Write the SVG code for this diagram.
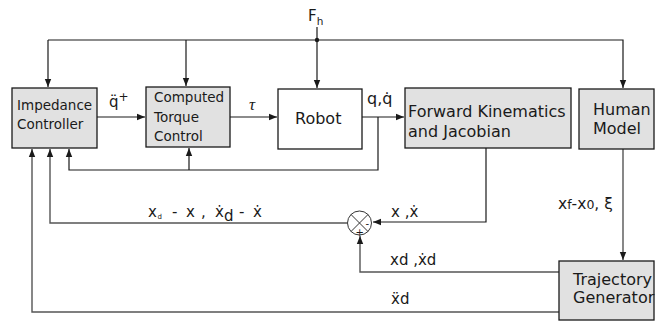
<svg xmlns="http://www.w3.org/2000/svg" width="655" height="324" viewBox="0 0 655 324">
<style>
.box{fill:#e1e1e1;stroke:#1a1a1a;stroke-width:1.3}
.wbox{fill:#fff;stroke:#1a1a1a;stroke-width:1.3}
.t{font-family:"DejaVu Sans",Verdana,sans-serif;fill:#1a1a1a}
.s{font-size:13.5px}
.b{font-size:16px}
.l{font-size:15px}
.ln{fill:none;stroke:#1a1a1a;stroke-width:1.2}
.gl{fill:none;stroke:#555;stroke-width:1.4}
</style>
<defs>
<marker id="ah" viewBox="0 0 8 8" refX="8" refY="4" markerWidth="8" markerHeight="8" markerUnits="userSpaceOnUse" orient="auto">
<path d="M0,0.8 L8,4 L0,7.2 Z" fill="#1a1a1a"/>
</marker>
</defs>
<rect width="655" height="324" fill="#fff"/>
<g id="connectors">
<path class="ln" d="M317,27 V88" marker-end="url(#ah)"/>
<path class="ln" d="M48,40 H623 V88" marker-end="url(#ah)"/>
<path class="ln" d="M48,40 V87" marker-end="url(#ah)"/>
<path class="ln" d="M186,40 V86" marker-end="url(#ah)"/>
<circle cx="317" cy="40" r="2.2" fill="#1a1a1a"/>
<path class="ln" d="M97,117 H145" marker-end="url(#ah)"/>
<path class="ln" d="M230,117 H277" marker-end="url(#ah)"/>
<path class="ln" d="M362,117 H404" marker-end="url(#ah)"/>
<path class="ln" d="M378,117 V170 H69 V149" marker-end="url(#ah)"/>
<path class="ln" d="M189,170 V148" marker-end="url(#ah)"/>
<path class="ln" d="M486,148 V222 H373" marker-end="url(#ah)"/>
<path class="gl" d="M347,223 H50 V149" marker-end="url(#ah)"/>
<path class="gl" d="M559,272 H360 V236" marker-end="url(#ah)"/>
<path class="gl" d="M559,312 H32 V149" marker-end="url(#ah)"/>
<path class="gl" d="M623,149 V260" marker-end="url(#ah)"/>
</g>
<g id="sum">
<circle cx="359.5" cy="223" r="12" fill="#fff" stroke="#333" stroke-width="1"/>
<path d="M351,214.5 L368,231.5 M368,214.5 L351,231.5" stroke="#333" stroke-width="1"/>
<text class="t" x="365.5" y="226.5" font-size="10">-</text>
<text class="t" x="355.5" y="235.5" font-size="10">+</text>
</g>
<g id="impedance">
<rect class="box" x="12" y="88" width="85" height="60"/>
<text class="t s" x="17" y="110">Impedance</text>
<text class="t s" x="17" y="129">Controller</text>
</g>
<g id="ctc">
<rect class="box" x="146" y="87" width="84" height="60"/>
<text class="t s" x="154" y="102">Computed</text>
<text class="t s" x="154" y="122">Torque</text>
<text class="t s" x="154" y="141">Control</text>
</g>
<g id="robot">
<rect class="wbox" x="278" y="89" width="84" height="60"/>
<text class="t b" x="295" y="124">Robot</text>
</g>
<g id="fk">
<rect class="box" x="405" y="88" width="166" height="60"/>
<text class="t b" x="408" y="117">Forward Kinematics</text>
<text class="t b" x="408" y="137">and Jacobian</text>
</g>
<g id="human">
<rect class="box" x="579" y="89" width="75" height="60"/>
<text class="t b" x="593" y="115">Human</text>
<text class="t b" x="593" y="134">Model</text>
</g>
<g id="traj">
<rect class="box" x="559" y="261" width="95" height="59"/>
<text class="t b" x="573" y="285">Trajectory</text>
<text class="t b" x="573" y="303">Generator</text>
</g>
<g id="labels">
<text class="t" x="308" y="21" font-size="15">F<tspan font-size="10.5" dy="4">h</tspan></text>
<text class="t" x="109" y="107" font-size="15">q̈<tspan font-size="12" dy="-6">+</tspan></text>
<text x="249" y="110" font-size="17" font-style="italic" font-family="'Liberation Serif',serif" fill="#1a1a1a">τ</text>
<text class="t" x="367" y="104" font-size="16">q,q̇</text>
<text class="t l" y="217"><tspan x="148">x</tspan><tspan x="157.5" y="219" font-size="7">d</tspan><tspan x="172" y="217">-</tspan><tspan x="186">x</tspan><tspan x="201">,</tspan><tspan x="215">ẋ</tspan><tspan x="224" y="221">d</tspan><tspan x="239" y="217">-</tspan><tspan x="253">ẋ</tspan></text>
<text class="t l" x="391" y="217">x ,ẋ</text>
<text class="t l" x="390" y="265">xd ,ẋd</text>
<text class="t l" x="391" y="304">ẍd</text>
<text class="t" x="558" y="209" font-size="15.5">x<tspan font-size="12.5">f</tspan>-x<tspan font-size="12.5">0</tspan>, ξ</text>
</g>
</svg>
